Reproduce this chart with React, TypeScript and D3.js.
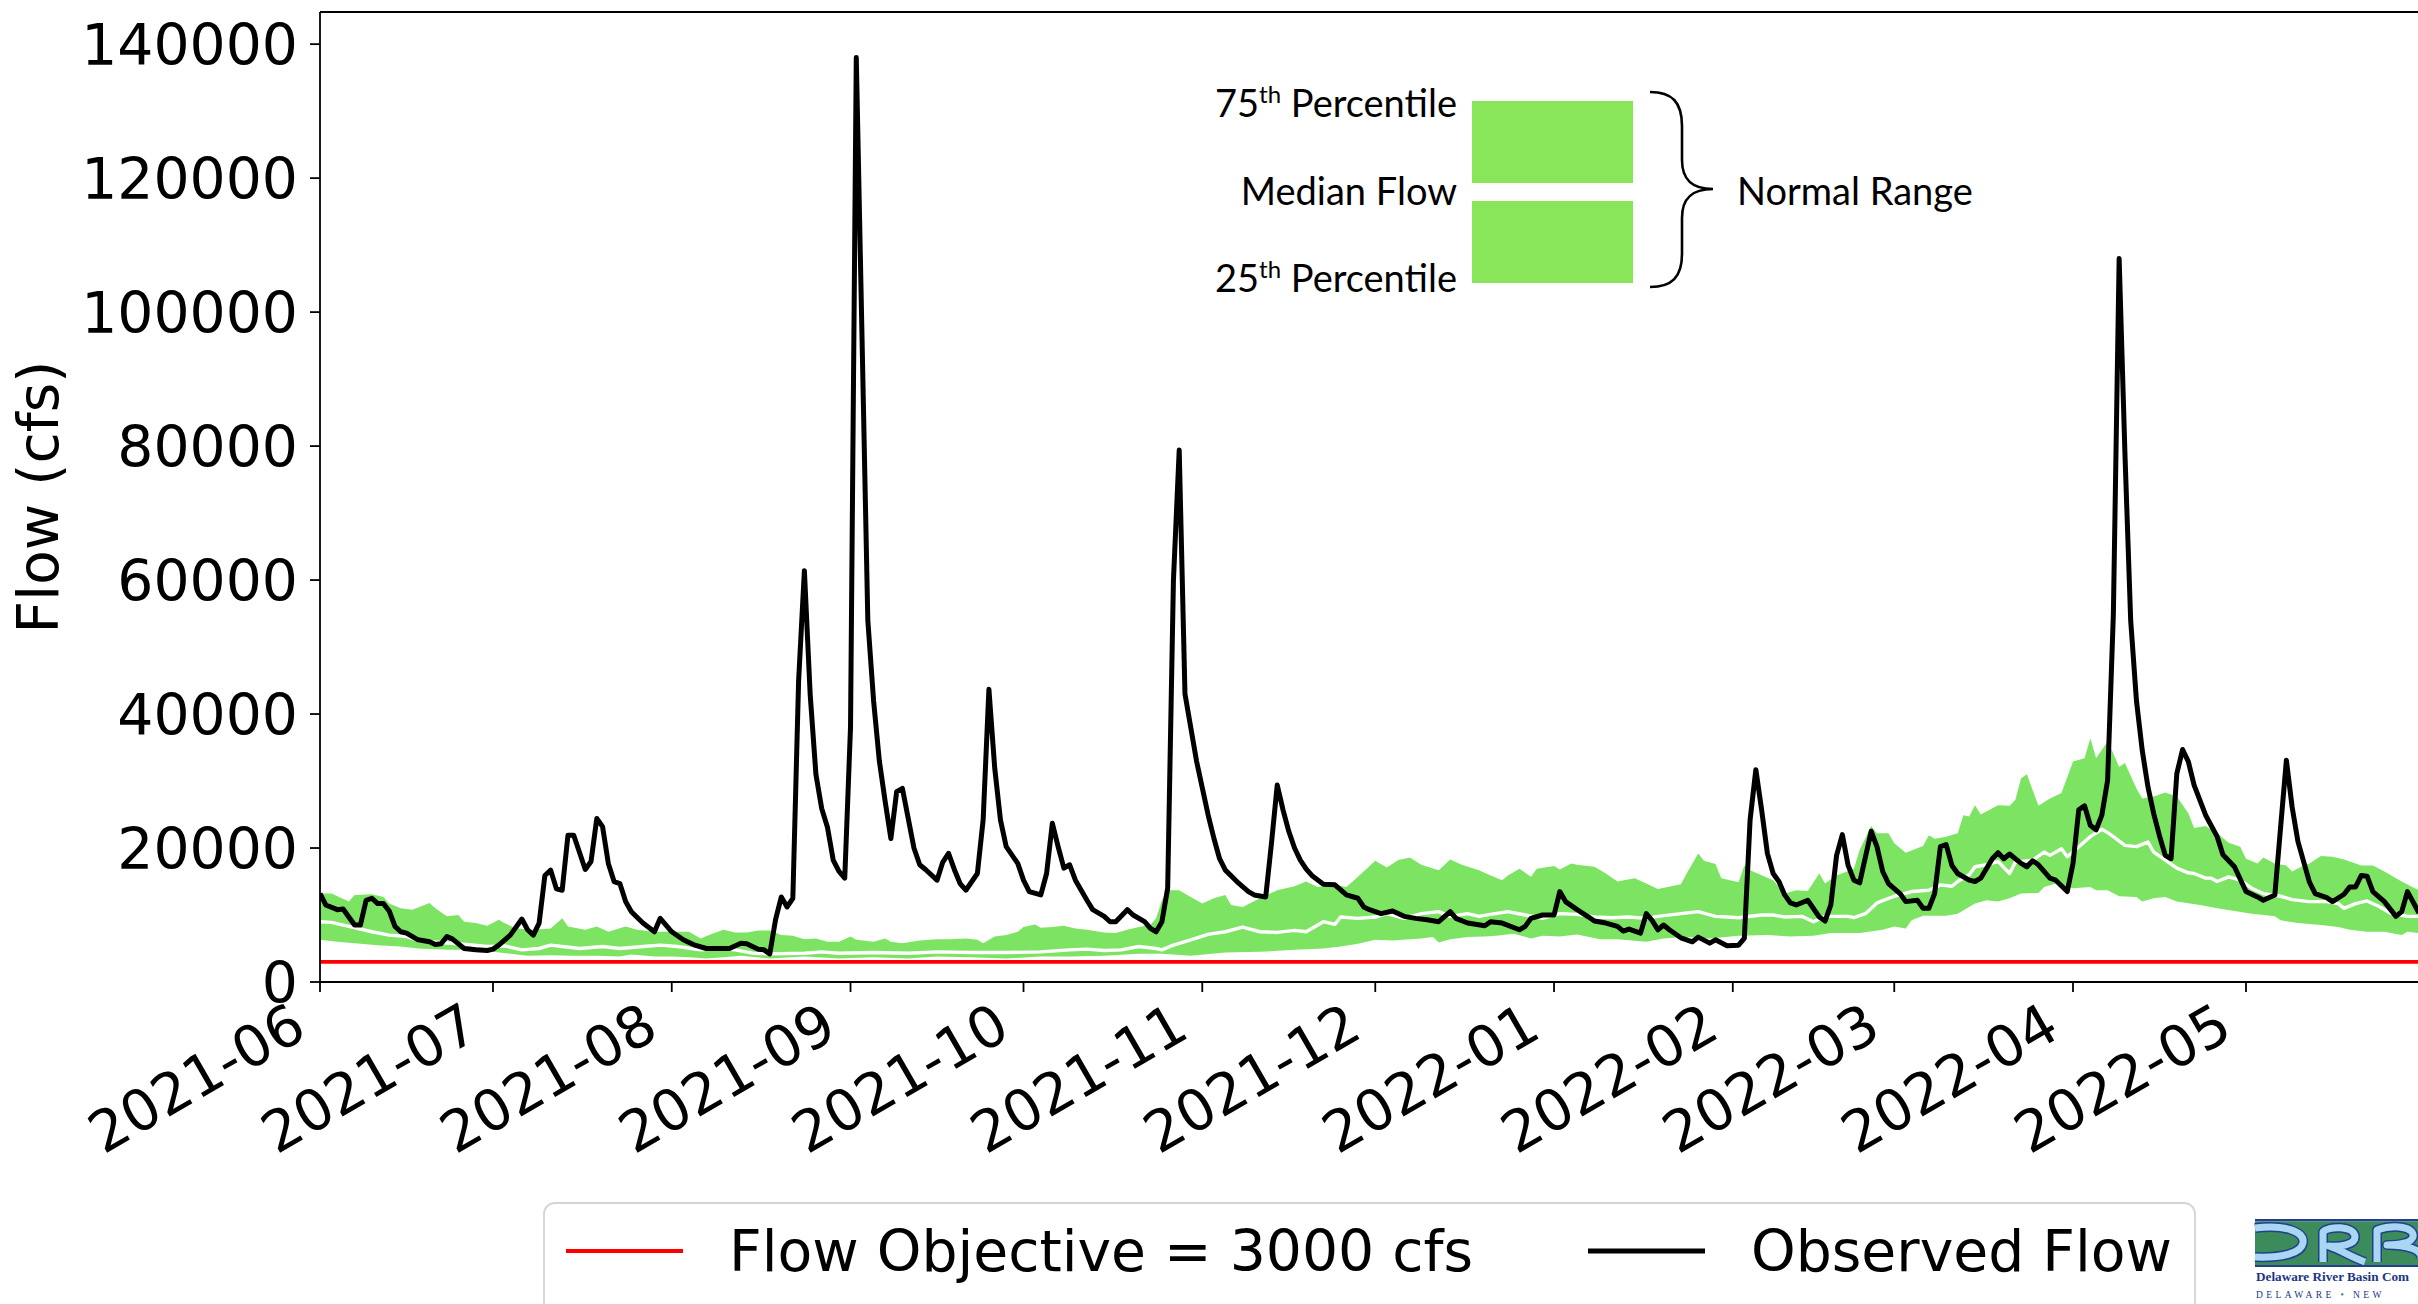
import React from 'react';
import * as d3 from 'd3';

const W = 2418;
const H = 1304;
const START = Date.UTC(2021, 5, 1);
const dayToDate = (d: number) => new Date(START + d * 86400000);

// Observed daily flow: [day offset from 2021-06-01, cfs]
const observedFlow: [number, number][] = [
  [0,13200],[1,11500],[3,10800],[4,10900],[6,8500],[7,8500],[8,12200],[9,12500],[10,11700],[11,11700],[12,10600],[13,8300],[14,7500],[15,7300],[17,6300],[19,6000],[20,5600],[21,5700],[22,6800],[23,6400],[25,5000],[27,4800],[29,4700],[30,4900],[31,5500],[33,7000],[35,9400],[36,7800],[37,7000],[38,8800],[39,15900],[40,16700],[41,13900],[42,13700],[43,21900],[44,21900],[46,16800],[47,18000],[48,24400],[49,23200],[50,17700],[51,15000],[52,14700],[53,12000],[54,10500],[56,8800],[58,7500],[59,9500],[61,7500],[63,6300],[65,5500],[67,5000],[71,5000],[73,5800],[74,5700],[76,4900],[77,4800],[78,4200],[79,9300],[80,12700],[81,11200],[82,12500],[83,45000],[84,61400],[85,43000],[86,31000],[87,25900],[88,23100],[89,18200],[90,16500],[91,15500],[92,38000],[93,138000],[94,96000],[95,54000],[96,42000],[97,33000],[98,27000],[99,21400],[100,28400],[101,28900],[103,20000],[104,17500],[105,16800],[107,15200],[108,17900],[109,19200],[110,16800],[111,14700],[112,13700],[114,16200],[115,24200],[116,43700],[117,32000],[118,24200],[119,20200],[121,17700],[122,15200],[123,13500],[125,13000],[126,16200],[127,23700],[128,20200],[129,17000],[130,17500],[131,15200],[133,12200],[134,10800],[136,9800],[137,9000],[138,9000],[140,10800],[141,10000],[143,9000],[144,8000],[145,7500],[146,9000],[147,14000],[148,60000],[149,79400],[150,43000],[151,38000],[152,33000],[153,29000],[154,25000],[155,21500],[156,18400],[157,16700],[159,15000],[161,13500],[162,13000],[164,12700],[165,20700],[166,29400],[167,25700],[168,22500],[169,20000],[170,18200],[171,16900],[172,15900],[174,14600],[176,14500],[178,13000],[180,12500],[181,11200],[182,10800],[184,10200],[186,10600],[188,9800],[190,9500],[192,9300],[194,9000],[196,10500],[197,9500],[199,8800],[202,8400],[203,9000],[205,8800],[208,7800],[209,8300],[210,9500],[212,10000],[214,10000],[215,13500],[216,12000],[218,10800],[220,9700],[221,9100],[223,8800],[225,8300],[226,7600],[227,7900],[229,7300],[230,10200],[231,9200],[232,7800],[233,8500],[234,7800],[236,6600],[238,6000],[239,6700],[241,5800],[242,6300],[244,5400],[246,5500],[247,6500],[248,24200],[249,31700],[250,25700],[251,19200],[252,16200],[253,15000],[254,13000],[255,11800],[256,11500],[258,12200],[260,9700],[261,9100],[262,11500],[263,18900],[264,22000],[265,17400],[266,15200],[267,14800],[269,22500],[270,20200],[271,16500],[272,14700],[274,13200],[275,12000],[277,12200],[278,11000],[279,11000],[280,13200],[281,20200],[282,20500],[283,17400],[284,16200],[286,15200],[287,15000],[288,15500],[290,18400],[291,19300],[292,18400],[293,19100],[295,17700],[296,17200],[297,18100],[298,17500],[300,15500],[301,15200],[303,13500],[304,17700],[305,25700],[306,26300],[307,23400],[308,22700],[309,24900],[310,30100],[311,55000],[312,108000],[313,79000],[314,54000],[315,42000],[316,34600],[317,29100],[318,25100],[319,21800],[320,18900],[321,18400],[322,31100],[323,34700],[324,32900],[325,29400],[327,24900],[329,21700],[330,19000],[332,17200],[334,13500],[336,12700],[337,12200],[339,13000],[340,23100],[341,33100],[342,26100],[343,21000],[345,14900],[346,13200],[348,12600],[349,12000],[351,13100],[352,14200],[353,14200],[354,15900],[355,15800],[356,13500],[358,12000],[360,9800],[361,10500],[362,13500],[364,10300],
];

// 75th percentile of historical flow for each day
const pct75: [number, number][] = [
  [0,13200],[2,13200],[5,12000],[6,13000],[9,13100],[11,12700],[12,11700],[14,11000],[16,10800],[19,11800],[20,11000],[22,9800],[24,10000],[25,9000],[27,8800],[29,8400],[31,9300],[32,8800],[34,8000],[37,7800],[40,8000],[42,9500],[43,8300],[46,7800],[48,8300],[50,7500],[53,8300],[55,7800],[58,7500],[61,7500],[64,7500],[66,6500],[68,7200],[70,7800],[72,7400],[74,7400],[76,7700],[78,7700],[80,7000],[82,6900],[84,6400],[86,6500],[88,6000],[90,6000],[92,6800],[93,6300],[96,6000],[98,6500],[99,6000],[101,5800],[104,6200],[107,6400],[109,6400],[112,6500],[114,6300],[115,5800],[117,6800],[119,7000],[121,7500],[122,8200],[124,8600],[125,8100],[127,8200],[129,8400],[131,8000],[133,7800],[136,7400],[138,7300],[140,7800],[142,8200],[144,8500],[145,9500],[146,12200],[147,13700],[149,13700],[151,12700],[153,11700],[155,12500],[157,13000],[158,11500],[160,11200],[163,12500],[166,13700],[169,14300],[171,15000],[173,14200],[176,14500],[178,14200],[180,15700],[183,18100],[185,17100],[187,18200],[189,18600],[191,17500],[194,16700],[196,18300],[198,17500],[201,16700],[203,15900],[205,15200],[206,15900],[208,16900],[210,15700],[211,16900],[214,17300],[215,16800],[217,17700],[218,17500],[221,17200],[223,16200],[225,15000],[228,15500],[230,14700],[232,13900],[236,14600],[237,16200],[239,19200],[240,18100],[242,17600],[243,15500],[246,14900],[247,17400],[248,16700],[252,15200],[254,13200],[256,13700],[258,13600],[260,16200],[261,14700],[263,15900],[266,16900],[267,19700],[269,23300],[270,22200],[272,22200],[273,20700],[275,19300],[278,20300],[279,21900],[280,21400],[282,21700],[284,22200],[285,24900],[286,24700],[287,26400],[288,25000],[291,26400],[293,26300],[294,27200],[295,30400],[296,31000],[298,26300],[300,27400],[302,28200],[304,32900],[306,33400],[307,36400],[308,33400],[310,35900],[311,34100],[312,32100],[313,32700],[315,28900],[316,27400],[318,27700],[320,28300],[322,27700],[324,25200],[325,23000],[327,23300],[329,22200],[331,20800],[333,20200],[334,18400],[336,17700],[337,18600],[339,17700],[341,17400],[342,16500],[344,17400],[345,17700],[347,18800],[349,18700],[351,18300],[354,17400],[356,17400],[358,16500],[361,15000],[363,14100],[364,13700],
];

// Median historical flow for each day
const pct50: [number, number][] = [
  [0,9000],[2,8900],[5,8300],[9,7500],[12,7000],[15,6800],[17,6200],[19,6000],[24,5700],[29,5300],[32,5400],[35,4800],[38,5000],[40,5500],[42,5300],[45,5000],[49,5300],[52,5000],[56,5300],[59,5500],[62,5300],[66,4800],[69,5000],[72,4800],[75,4300],[78,4200],[84,4300],[87,4500],[90,4300],[96,4400],[102,4300],[107,4500],[113,4400],[119,4400],[125,4500],[130,4800],[133,4900],[136,4700],[139,4800],[142,5300],[145,5000],[146,4800],[148,5500],[151,6300],[154,7100],[157,7500],[160,8200],[163,7500],[166,7400],[169,7700],[171,7500],[174,9000],[176,8600],[177,9700],[180,9500],[183,9700],[185,10200],[188,9500],[191,10200],[194,10500],[196,9800],[199,10200],[201,9800],[203,10100],[206,10500],[209,10000],[212,9500],[215,10200],[218,10100],[221,9700],[224,9600],[227,9700],[230,9500],[232,9800],[236,10200],[239,10500],[242,9800],[244,9700],[246,9600],[250,10000],[252,10000],[254,9700],[257,9800],[259,9000],[261,9800],[265,9800],[266,9600],[268,10200],[270,11800],[273,12800],[276,13500],[279,13700],[281,14500],[283,14300],[284,15000],[286,16000],[287,17200],[289,17500],[291,18000],[293,16200],[294,17900],[297,18200],[299,19400],[300,18900],[302,19900],[303,18700],[305,20200],[307,21700],[309,22800],[310,22300],[311,21700],[313,20400],[315,20200],[317,20900],[318,19400],[320,18200],[322,17000],[324,16300],[325,16200],[327,15500],[328,15500],[329,15000],[331,15700],[333,15200],[335,14000],[337,13200],[340,12800],[342,12300],[345,12000],[348,12000],[350,11700],[351,11000],[353,11700],[355,12100],[357,11300],[359,10300],[362,9800],[364,9800],
];

// 25th percentile of historical flow for each day
const pct25: [number, number][] = [
  [0,6300],[3,6000],[7,5700],[10,5500],[14,5300],[17,5000],[22,4800],[27,4800],[30,4500],[33,4200],[36,3900],[40,4000],[44,3900],[48,3900],[52,3800],[54,4100],[58,3800],[61,3800],[64,3700],[67,3500],[70,3700],[73,3900],[78,3500],[84,3800],[90,3500],[96,3700],[102,3500],[107,3800],[113,3700],[119,3500],[125,3800],[130,3800],[136,3900],[142,4200],[146,4200],[151,3900],[157,4400],[163,4500],[169,4800],[174,5000],[177,5300],[180,5700],[183,6300],[186,6200],[189,6400],[191,6500],[193,6700],[194,5900],[196,6400],[199,6700],[202,6800],[204,6900],[207,7200],[210,6500],[212,6900],[215,6800],[218,7100],[222,6400],[225,6400],[230,6000],[233,6500],[237,6700],[241,6500],[246,6900],[251,7000],[255,6800],[259,6900],[262,7300],[267,7300],[271,7800],[273,8300],[275,8000],[276,9200],[278,9900],[282,9900],[284,10200],[287,11700],[289,12200],[291,12000],[293,12500],[295,13200],[298,13300],[299,14200],[301,14700],[304,14000],[307,14200],[308,13700],[310,13700],[312,12800],[315,12700],[316,12000],[318,12500],[320,12700],[322,12000],[326,11500],[329,11000],[332,10600],[335,10200],[339,9800],[340,9200],[343,8800],[347,8500],[350,8200],[352,7800],[355,7500],[358,7500],[361,7000],[362,7500],[364,7300],
];

const FLOW_OBJECTIVE = 3000;
const yTickValues = [0, 20000, 40000, 60000, 80000, 100000, 120000, 140000];
const legendLabels = ['Flow Objective = 3000 cfs', 'Observed Flow'];

const FONT = 'DejaVu Sans';
const FS = 56.8;

export default function App() {
  const left = 320;
  const right = 2419;
  const top = 12;
  const bottom = 982;

  const x = d3.scaleUtc().domain([dayToDate(0), dayToDate(364)]).range([left, right]);
  const y = d3.scaleLinear().domain([0, 144800]).range([bottom, top]);

  const px = (d: number) => x(dayToDate(d));
  const line = d3.line<[number, number]>().x((p) => px(p[0])).y((p) => y(p[1])).curve(d3.curveLinear);

  const bandPts: [number, number][] = [
    ...pct75.map((p) => [px(p[0]), y(p[1])] as [number, number]),
    ...pct25.slice().reverse().map((p) => [px(p[0]), y(p[1])] as [number, number]),
  ];
  const bandPath = d3.line()(bandPts) + 'Z';

  const monthTicks = d3.utcMonth.range(dayToDate(0), dayToDate(365));
  const fmt = d3.utcFormat('%Y-%m');

  return (
    <svg width={W} height={H} style={{ position: 'absolute', left: 0, top: 0, background: '#fff' }}
      xmlns="http://www.w3.org/2000/svg">
      <defs>
        <clipPath id="plotClip">
          <rect x={left} y={top} width={right - left} height={bottom - top} />
        </clipPath>
      </defs>
      <rect x={0} y={0} width={W} height={H} fill="#fff" />

      <g clipPath="url(#plotClip)">
        <path d={bandPath} fill="#7ce462" stroke="none" />
        <path d={line(pct50) || ''} fill="none" stroke="#fff" strokeWidth={3.4} strokeLinejoin="round" />
        <line x1={left} x2={right} y1={y(FLOW_OBJECTIVE)} y2={y(FLOW_OBJECTIVE)} stroke="#ff0000" strokeWidth={3.8} />
        <path d={line(observedFlow) || ''} fill="none" stroke="#000" strokeWidth={5} strokeLinejoin="round" />
      </g>

      {/* spines */}
      <line x1={left} x2={left} y1={top} y2={bottom} stroke="#000" strokeWidth={1.8} />
      <line x1={left} x2={right} y1={bottom} y2={bottom} stroke="#000" strokeWidth={1.8} />
      <line x1={left} x2={right} y1={top} y2={top} stroke="#000" strokeWidth={1.8} />

      {/* y axis */}
      {yTickValues.map((v) => (
        <g key={v}>
          <line x1={left - 10} x2={left} y1={y(v)} y2={y(v)} stroke="#000" strokeWidth={1.8} />
          <text x={298} y={y(v) + FS * 0.365} textAnchor="end" fontFamily={FONT} fontSize={FS} fill="#000">
            {v}
          </text>
        </g>
      ))}
      <text transform={`translate(58,497) rotate(-90)`} textAnchor="middle" fontFamily={FONT} fontSize={FS} fill="#000">
        Flow (cfs)
      </text>

      {/* x axis */}
      {monthTicks.map((t) => {
        const tx = x(t);
        return (
          <g key={+t}>
            <line x1={tx} x2={tx} y1={bottom} y2={bottom + 10} stroke="#000" strokeWidth={1.8} />
            <text transform={`translate(${tx - 11},${1036}) rotate(-30)`} textAnchor="end" fontFamily={FONT}
              fontSize={FS} fill="#000">
              {fmt(t)}
            </text>
          </g>
        );
      })}

      {/* normal range key */}
      <g fontFamily="Lato" fill="#000">
        <rect x={1472} y={101} width={161} height={82} fill="#89e65a" />
        <rect x={1472} y={201} width={161} height={82} fill="#89e65a" />
        <text x={1457} y={117} textAnchor="end" fontSize={38}>
          75<tspan fontSize={24} dy={-14}>th</tspan><tspan dy={14}> Percentile</tspan>
        </text>
        <text x={1457} y={205} textAnchor="end" fontSize={38}>Median Flow</text>
        <text x={1457} y={292} textAnchor="end" fontSize={38}>
          25<tspan fontSize={24} dy={-14}>th</tspan><tspan dy={14}> Percentile</tspan>
        </text>
        <path d="M1650,92 C1672,92 1682,102 1682,126 L1682,160 C1682,180 1692,189 1713,189 C1692,189 1682,198 1682,218 L1682,254 C1682,277 1672,287 1650,287"
          fill="none" stroke="#000" strokeWidth={2.6} />
        <text x={1737} y={205} fontSize={38}>Normal Range</text>
      </g>

      {/* series legend */}
      <g>
        <rect x={544} y={1203} width={1651} height={140} rx={11} ry={11} fill="#fff" stroke="#d4d4d4" strokeWidth={1.8} />
        <line x1={566} x2={683} y1={1251} y2={1251} stroke="#ff0000" strokeWidth={3.8} />
        <text x={729} y={1271} fontFamily={FONT} fontSize={FS} fill="#000">{legendLabels[0]}</text>
        <line x1={1588} x2={1705} y1={1251} y2={1251} stroke="#000" strokeWidth={5} />
        <text x={1751} y={1271} fontFamily={FONT} fontSize={FS} fill="#000">{legendLabels[1]}</text>
      </g>

      {/* agency logo */}
      <g transform="translate(2255,1219)">
        <rect x={0} y={0} width={170} height={2.5} fill="#23408e" />
        <rect x={0} y={2.5} width={170} height={43.5} fill="#3b8b5b" />
        <rect x={0} y={46} width={170} height={2} fill="#23408e" />
        <g fill="none" strokeLinecap="butt" strokeLinejoin="round">
          <g stroke="#23408e" strokeWidth={10}>
            <path d="M0,9 C30,5 50,13 48,24 C46,34 28,39 0,38" />
            <path d="M68,43 L68,13 C72,7 100,6 100,18 C100,26 84,28 74,27 C86,31 96,38 110,43" />
            <path d="M122,43 L122,11 C140,5 160,8 158,18 C156,24 144,26 132,26 C150,26 168,30 166,40" />
          </g>
          <g stroke="#a9d6f2" strokeWidth={7}>
            <path d="M0,9 C30,5 50,13 48,24 C46,34 28,39 0,38" />
            <path d="M68,43 L68,13 C72,7 100,6 100,18 C100,26 84,28 74,27 C86,31 96,38 110,43" />
            <path d="M122,43 L122,11 C140,5 160,8 158,18 C156,24 144,26 132,26 C150,26 168,30 166,40" />
          </g>
        </g>
        <text x={1} y={62} fontFamily="Liberation Serif" fontWeight="bold" fontSize={13.2} fill="#1d3585">
          Delaware River Basin Com
        </text>
        <text x={1} y={79} fontFamily="Liberation Serif" fontSize={9.5} letterSpacing={3.4} fill="#1d3585">
          DELAWARE <tspan fill="#2e8b57">•</tspan> NEW
        </text>
      </g>
    </svg>
  );
}
